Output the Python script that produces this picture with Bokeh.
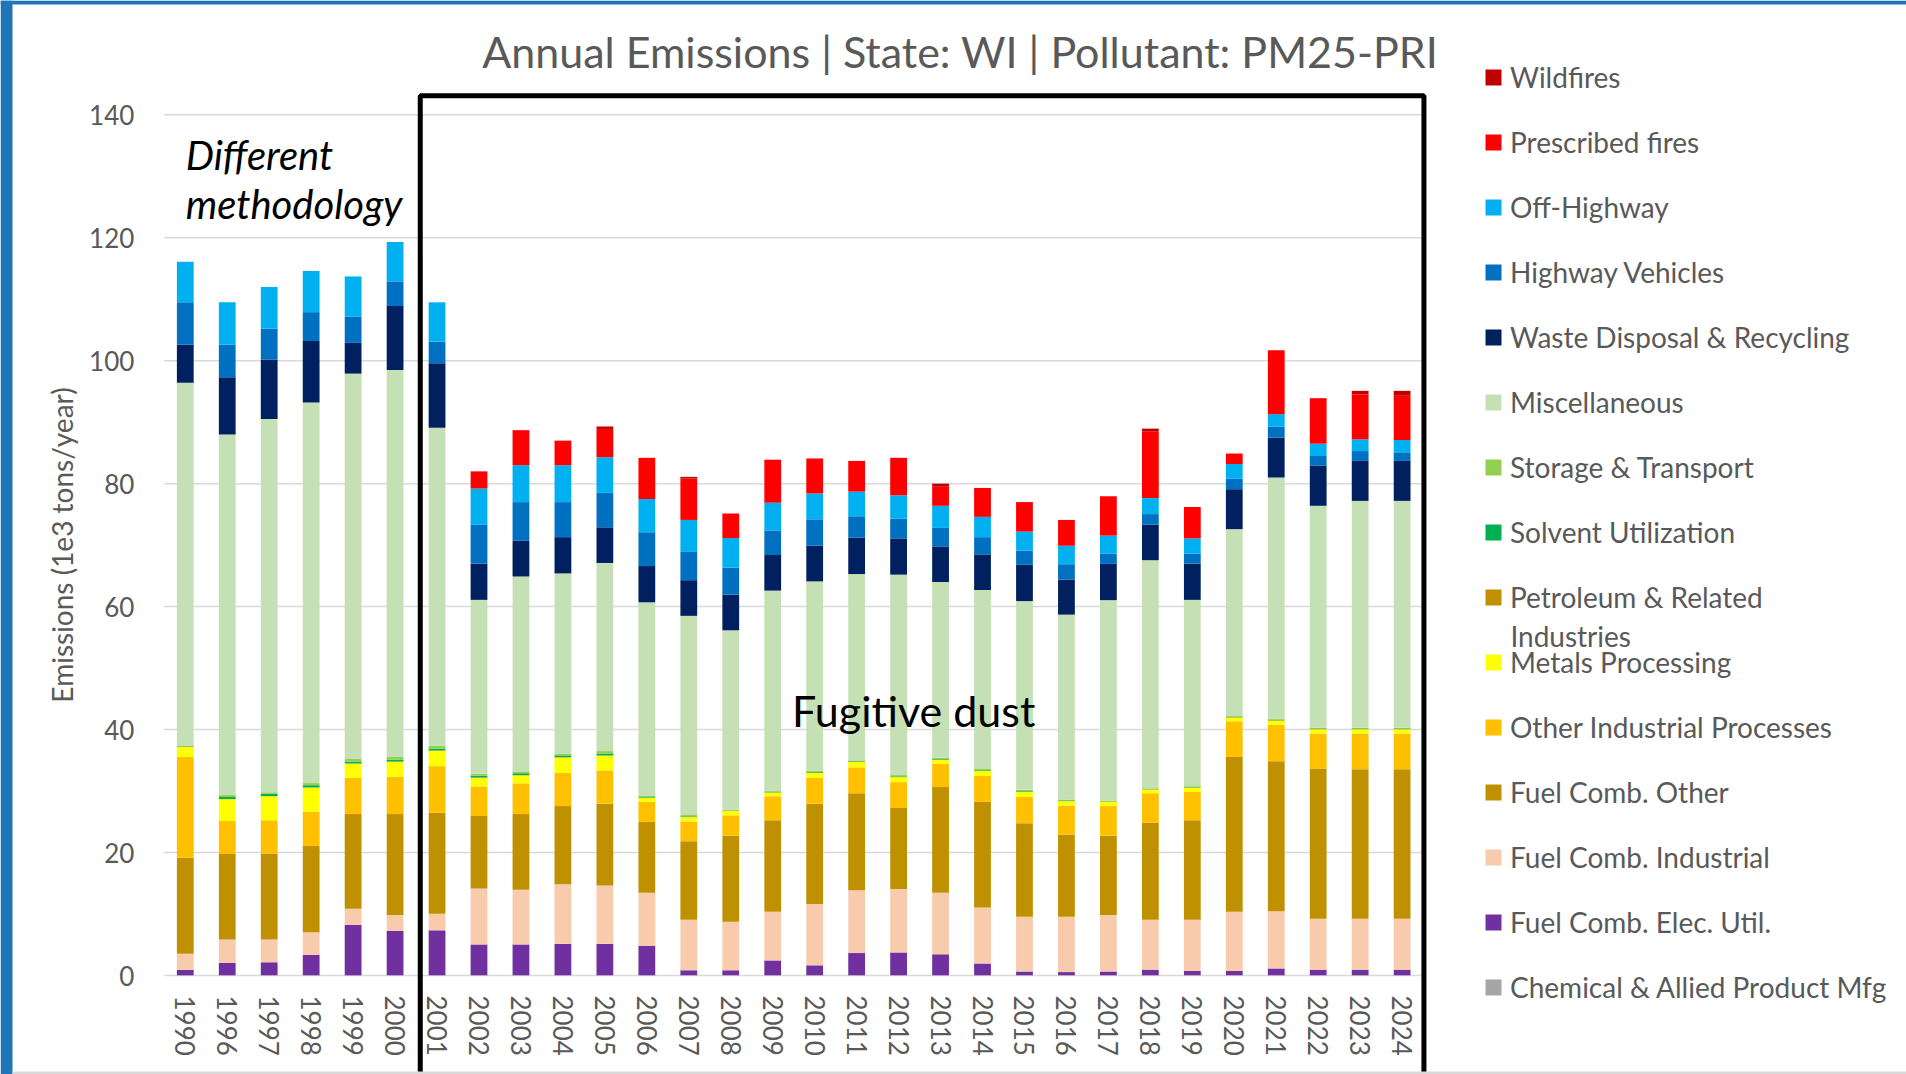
from bokeh.plotting import figure
from bokeh.models import (ColumnDataSource, Legend, LegendItem, Label, BoxAnnotation,
                          Range1d, FixedTicker)
from bokeh.embed import file_html
from bokeh.resources import INLINE

years = ['1990', '1996', '1997', '1998', '1999', '2000', '2001', '2002', '2003', '2004',
         '2005', '2006', '2007', '2008', '2009', '2010', '2011', '2012', '2013', '2014',
         '2015', '2016', '2017', '2018', '2019', '2020', '2021', '2022', '2023', '2024']

chemical = [0.05, 0.05, 0.05, 0.05, 0.05, 0.05, 0.05, 0.05, 0.05, 0.05,
            0.05, 0.05, 0.05, 0.05, 0.05, 0.05, 0.05, 0.05, 0.05, 0.05,
            0.05, 0.05, 0.05, 0.05, 0.05, 0.05, 0.05, 0.05, 0.05, 0.05]
elec_util = [0.9, 2.0, 2.1, 3.3, 8.2, 7.2, 7.3, 5.0, 5.0, 5.1,
             5.1, 4.8, 0.8, 0.8, 2.4, 1.6, 3.6, 3.7, 3.4, 1.9,
             0.6, 0.5, 0.6, 0.9, 0.7, 0.7, 1.1, 0.9, 0.9, 0.9]
fuel_industrial = [2.6, 3.8, 3.7, 3.7, 2.6, 2.6, 2.7, 9.1, 8.9, 9.7,
                   9.5, 8.6, 8.2, 7.9, 7.9, 10.0, 10.2, 10.3, 10.0, 9.1,
                   8.9, 9.0, 9.2, 8.1, 8.3, 9.6, 9.3, 8.3, 8.3, 8.3]
fuel_other = [15.6, 13.9, 14.0, 14.0, 15.4, 16.4, 16.4, 11.8, 12.3, 12.7,
              13.3, 11.5, 12.8, 14.0, 14.9, 16.3, 15.8, 13.2, 17.2, 17.2,
              15.2, 13.4, 12.9, 15.8, 16.2, 25.2, 24.4, 24.4, 24.3, 24.3]
other_industrial = [16.4, 5.4, 5.4, 5.6, 5.9, 6.1, 7.6, 4.8, 5.0, 5.4,
                    5.4, 3.3, 3.2, 3.3, 3.9, 4.2, 4.2, 4.2, 3.8, 4.2,
                    4.3, 4.7, 4.8, 4.8, 4.6, 5.8, 5.9, 5.7, 5.8, 5.8]
metals = [1.6, 3.5, 3.9, 3.9, 2.3, 2.4, 2.5, 1.4, 1.3, 2.5,
          2.4, 0.6, 0.7, 0.7, 0.6, 0.8, 0.9, 0.8, 0.6, 0.8,
          0.8, 0.7, 0.7, 0.6, 0.7, 0.6, 0.7, 0.7, 0.7, 0.7]
petroleum = [0.05, 0.05, 0.05, 0.05, 0.05, 0.05, 0.05, 0.05, 0.05, 0.05,
             0.05, 0.05, 0.05, 0.05, 0.05, 0.05, 0.05, 0.05, 0.05, 0.05,
             0.05, 0.05, 0.05, 0.05, 0.05, 0.05, 0.05, 0.05, 0.05, 0.05]
solvent = [0.1, 0.35, 0.35, 0.35, 0.3, 0.3, 0.3, 0.3, 0.3, 0.3,
           0.3, 0.1, 0.1, 0.05, 0.1, 0.1, 0.1, 0.1, 0.1, 0.1,
           0.1, 0.1, 0.05, 0.05, 0.1, 0.1, 0.1, 0.1, 0.1, 0.1]
storage = [0.1, 0.35, 0.25, 0.35, 0.5, 0.5, 0.5, 0.3, 0.3, 0.3,
           0.4, 0.2, 0.2, 0.1, 0.1, 0.2, 0.1, 0.2, 0.2, 0.2,
           0.2, 0.1, 0.1, 0.1, 0.1, 0.2, 0.2, 0.1, 0.1, 0.1]
misc = [59.0, 58.6, 60.7, 61.9, 62.6, 62.9, 51.7, 28.3, 31.7, 29.3,
        30.6, 31.5, 32.4, 29.2, 32.6, 30.8, 30.3, 32.6, 28.6, 29.1,
        30.7, 30.1, 32.6, 37.1, 30.3, 30.3, 39.2, 36.1, 36.9, 36.9]
waste = [6.2, 9.3, 9.7, 10.0, 5.0, 10.4, 10.5, 5.9, 5.8, 5.9,
         5.8, 5.9, 5.8, 5.8, 5.8, 5.8, 5.9, 5.9, 5.8, 5.8,
         5.9, 5.7, 5.9, 5.8, 5.9, 6.5, 6.5, 6.5, 6.5, 6.5]
highway = [6.9, 5.3, 5.0, 4.7, 4.3, 4.0, 3.5, 6.3, 6.3, 5.7,
           5.6, 5.5, 4.6, 4.4, 4.0, 4.3, 3.5, 3.2, 3.0, 2.8,
           2.3, 2.5, 1.7, 1.7, 1.6, 1.7, 1.8, 1.6, 1.6, 1.4]
off_highway = [6.6, 6.9, 6.8, 6.7, 6.5, 6.4, 6.4, 5.9, 6.0, 6.0,
               5.8, 5.4, 5.2, 4.8, 4.5, 4.2, 4.0, 3.8, 3.6, 3.3,
               3.1, 3.0, 2.9, 2.6, 2.5, 2.4, 2.0, 2.0, 1.9, 2.0]
prescribed = [0.0, 0.0, 0.0, 0.0, 0.0, 0.0, 0.0, 2.8, 5.7, 4.0,
              4.6, 6.7, 6.75, 4.0, 7.0, 5.7, 5.0, 6.1, 3.1, 4.7,
              4.8, 4.2, 6.4, 10.8, 5.1, 1.7, 10.4, 7.4, 7.3, 7.3]
wildfires = [0.0, 0.0, 0.0, 0.0, 0.0, 0.0, 0.0, 0.0, 0.0, 0.0,
             0.4, 0.0, 0.25, 0.0, 0.0, 0.0, 0.0, 0.0, 0.5, 0.0,
             0.0, 0.0, 0.0, 0.5, 0.0, 0.0, 0.0, 0.0, 0.6, 0.7]

y_ticks = [0, 20, 40, 60, 80, 100, 120, 140]

# stack order bottom -> top
series_keys = ['chemical', 'elec_util', 'fuel_industrial', 'fuel_other', 'other_industrial',
               'metals', 'petroleum', 'solvent', 'storage', 'misc', 'waste', 'highway',
               'off_highway', 'prescribed', 'wildfires']
series_names = ['Chemical & Allied Product Mfg', 'Fuel Comb. Elec. Util.', 'Fuel Comb. Industrial',
                'Fuel Comb. Other', 'Other Industrial Processes', 'Metals Processing',
                'Petroleum & Related', 'Solvent Utilization', 'Storage & Transport',
                'Miscellaneous', 'Waste Disposal & Recycling', 'Highway Vehicles',
                'Off-Highway', 'Prescribed fires', 'Wildfires']
series_colors = ['#A5A5A5', '#7030A0', '#F8CBAD', '#BF9000', '#FFC000', '#FFFF00',
                 '#BF9000', '#00B050', '#92D050', '#C5E0B4', '#002060', '#0070C0',
                 '#00B0F0', '#FF0000', '#C00000']

xpos = [i + 0.5 for i in range(len(years))]

source = ColumnDataSource(data=dict(
    x=xpos, year=years, chemical=chemical, elec_util=elec_util, fuel_industrial=fuel_industrial,
    fuel_other=fuel_other, other_industrial=other_industrial, metals=metals,
    petroleum=petroleum, solvent=solvent, storage=storage, misc=misc, waste=waste,
    highway=highway, off_highway=off_highway, prescribed=prescribed, wildfires=wildfires))

FONT = 'Lato'
GRAY = '#595959'
W, H = 1906, 1074
X0, XU = 163.8, 41.96     # pixel of x=0, pixels per category
Y0, YU = 975.0, 6.148     # pixel of y=0, pixels per unit

p = figure(x_range=Range1d(-X0 / XU, (W - X0) / XU),
           y_range=Range1d(-(H - Y0) / YU, Y0 / YU),
           frame_width=W, frame_height=H, min_border=0,
           output_backend="svg", toolbar_location=None, outline_line_color=None,
           background_fill_color='white', border_fill_color='white')

# horizontal gridlines across the category span only
n = len(years)
grid_src = ColumnDataSource(data=dict(y=y_ticks, x0=[0] * len(y_ticks), x1=[n] * len(y_ticks)))
p.segment(x0='x0', y0='y', x1='x1', y1='y', source=grid_src, line_color='#D9D9D9', line_width=1.5)

renderers = p.vbar_stack(series_keys, x='x', width=0.4, color=series_colors,
                         line_color=None, source=source)

p.xgrid.visible = False
p.ygrid.visible = False

# y axis
p.yaxis.fixed_location = 0
p.yaxis.bounds = (y_ticks[0], y_ticks[-1])
p.yaxis.ticker = FixedTicker(ticks=y_ticks)
p.yaxis.axis_line_color = None
p.yaxis.major_tick_line_color = None
p.yaxis.minor_tick_line_color = None
p.yaxis.major_tick_out = 0
p.yaxis.major_tick_in = 0
p.yaxis.major_label_standoff = 30
p.yaxis.major_label_text_font = FONT
p.yaxis.major_label_text_font_size = '26px'
p.yaxis.major_label_text_color = GRAY
p.yaxis.axis_label = 'Emissions (1e3 tons/year)'
p.yaxis.axis_label_text_font = FONT
p.yaxis.axis_label_text_font_style = 'normal'
p.yaxis.axis_label_text_font_size = '28px'
p.yaxis.axis_label_text_color = GRAY
p.yaxis.axis_label_standoff = 7

# x axis
p.xaxis.fixed_location = 0
p.xaxis.bounds = (0, n)
p.xaxis.ticker = FixedTicker(ticks=xpos)
p.xaxis.major_label_overrides = {xv: yr for xv, yr in zip(xpos, years)}
p.xaxis.axis_line_color = None
p.xaxis.major_tick_line_color = None
p.xaxis.minor_tick_line_color = None
p.xaxis.major_tick_out = 0
p.xaxis.major_tick_in = 0
p.xaxis.major_label_orientation = 'vertical'
p.xaxis.major_label_standoff = 20
p.xaxis.major_label_text_font = FONT
p.xaxis.major_label_text_font_size = '26px'
p.xaxis.major_label_text_color = GRAY

# legend (top to bottom = reversed stack order)
items = [LegendItem(label=name, renderers=[r]) for name, r in zip(series_names, renderers)]
items = items[::-1]
legend = Legend(items=items, location=(1483, 68), orientation='vertical',
                glyph_width=20, glyph_height=20, label_height=38, label_standoff=7,
                spacing=27, padding=0, margin=0, border_line_alpha=0,
                background_fill_alpha=0, label_text_font=FONT,
                label_text_font_size='28px', label_text_color=GRAY)
p.add_layout(legend)

p.add_layout(Label(x=32.08, y=55.3, text='Industries', text_font=FONT, text_font_size='28px',
                   text_color=GRAY, text_baseline='middle', text_align='left'))

# title
p.add_layout(Label(x=18.97, y=150.3, text='Annual Emissions | State: WI | Pollutant: PM25-PRI',
                   text_font=FONT, text_font_size='43px', text_color=GRAY,
                   text_align='center', text_baseline='alphabetic'))

# annotations
p.add_layout(Label(x=0.51, y=133.4, text='Different', text_font=FONT, text_font_size='40px',
                   text_font_style='italic', text_color='black', text_baseline='alphabetic'))
p.add_layout(Label(x=0.51, y=125.5, text='methodology', text_font=FONT, text_font_size='40px',
                   text_font_style='italic', text_color='black', text_baseline='alphabetic'))
p.add_layout(Label(x=17.86, y=43.1, text='Fugitive dust', text_font=FONT, text_font_size='43px',
                   text_color='black', text_align='center', text_baseline='alphabetic'))

p.add_layout(BoxAnnotation(left=6.1, right=30.02, top=143.1, bottom=-25,
                           fill_alpha=0, line_color='black', line_alpha=1, line_width=5))

# slide frame: blue edges and grey bottom rule
p.add_layout(BoxAnnotation(left=0, right=12, top=0, bottom=H,
                           left_units='canvas', right_units='canvas',
                           top_units='canvas', bottom_units='canvas',
                           fill_color='#1F74BA', fill_alpha=1, line_color=None))
p.add_layout(BoxAnnotation(left=0, right=W, top=0, bottom=4,
                           left_units='canvas', right_units='canvas',
                           top_units='canvas', bottom_units='canvas',
                           fill_color='#1F74BA', fill_alpha=1, line_color=None))
p.add_layout(BoxAnnotation(left=12, right=W, top=1071, bottom=H,
                           left_units='canvas', right_units='canvas',
                           top_units='canvas', bottom_units='canvas',
                           fill_color='#D9D9D9', fill_alpha=1, line_color=None))

open("out.html", "w").write(file_html(p, INLINE))
